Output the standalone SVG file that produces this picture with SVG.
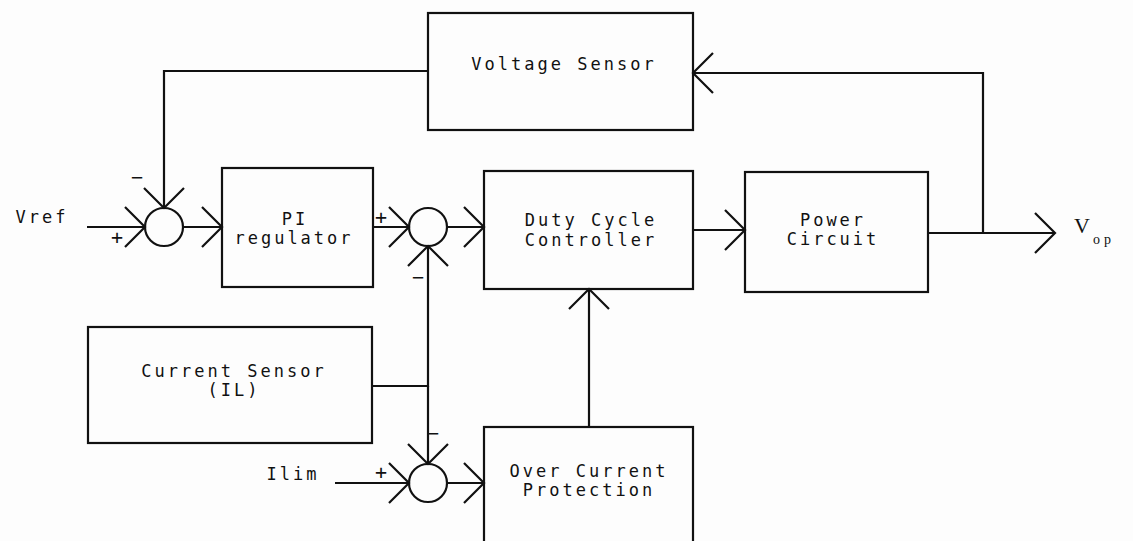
<svg xmlns="http://www.w3.org/2000/svg" width="1133" height="541" viewBox="0 0 1133 541">
<style>
.box{fill:none;stroke:#111;stroke-width:2.2}
.sum{fill:none;stroke:#111;stroke-width:2.2}
.wire{fill:none;stroke:#111;stroke-width:2.2}
.lbl{font-family:"DejaVu Sans Mono","Liberation Mono",monospace;font-size:17px;fill:#111;text-anchor:middle;letter-spacing:3px}
.sign{font-family:"DejaVu Sans Mono","Liberation Mono",monospace;font-size:20px;fill:#111;text-anchor:middle}
.vop{font-family:"Liberation Serif",serif;fill:#111}
</style>
<defs>
<marker id="chev" markerUnits="userSpaceOnUse" markerWidth="44" markerHeight="44" refX="22" refY="22" orient="auto" viewBox="0 0 44 44">
<path d="M2,2 L22,22 L2,42" fill="none" stroke="#111" stroke-width="2.2"/>
</marker>
</defs>
<rect width="1133" height="541" fill="#fdfdfd"/>
<g id="connectors">
<path class="wire" d="M87,227 H145" marker-end="url(#chev)"/>
<path class="wire" d="M428,71 H164 V208" marker-end="url(#chev)"/>
<path class="wire" d="M983,233 V73 H693" marker-end="url(#chev)"/>
<path class="wire" d="M183,227 H222" marker-end="url(#chev)"/>
<path class="wire" d="M373,227 H409" marker-end="url(#chev)"/>
<path class="wire" d="M447,227 H484" marker-end="url(#chev)"/>
<path class="wire" d="M372,386 H428 V246" marker-end="url(#chev)"/>
<path class="wire" d="M428,386 V464" marker-end="url(#chev)"/>
<path class="wire" d="M335,483 H409" marker-end="url(#chev)"/>
<path class="wire" d="M447,483 H484" marker-end="url(#chev)"/>
<path class="wire" d="M589,427 V289" marker-end="url(#chev)"/>
<path class="wire" d="M693,230 H745" marker-end="url(#chev)"/>
<path class="wire" d="M928,233 H1055" marker-end="url(#chev)"/>
</g>
<g id="vref"><text class="lbl" x="42" y="223">Vref</text></g>
<g id="sum1">
<circle class="sum" cx="164" cy="227" r="19"/>
<text class="sign" x="137" y="184">−</text>
<text class="sign" x="117" y="244">+</text>
</g>
<g id="voltage-sensor">
<rect class="box" x="428" y="13" width="265" height="117"/>
<text class="lbl" x="564" y="70">Voltage Sensor</text>
</g>
<g id="pi-regulator">
<rect class="box" x="222" y="168" width="151" height="119"/>
<text class="lbl" x="295" y="225">PI</text>
<text class="lbl" x="294" y="244">regulator</text>
</g>
<g id="sum2">
<circle class="sum" cx="428" cy="227" r="19"/>
<text class="sign" x="381" y="224">+</text>
<text class="sign" x="418" y="284">−</text>
</g>
<g id="duty-cycle-controller">
<rect class="box" x="484" y="171" width="209" height="118"/>
<text class="lbl" x="591" y="226">Duty Cycle</text>
<text class="lbl" x="591" y="246">Controller</text>
</g>
<g id="power-circuit">
<rect class="box" x="745" y="172" width="183" height="120"/>
<text class="lbl" x="833" y="226">Power</text>
<text class="lbl" x="833" y="245">Circuit</text>
</g>
<g id="vop">
<text class="vop" x="1074" y="233" font-size="22">V</text>
<text class="vop" x="1093" y="244" font-size="14" letter-spacing="4">op</text>
</g>
<g id="current-sensor">
<rect class="box" x="88" y="327" width="284" height="116"/>
<text class="lbl" x="234" y="377">Current Sensor</text>
<text class="lbl" x="234" y="396">(IL)</text>
</g>
<g id="ilim"><text class="lbl" x="293" y="480">Ilim</text></g>
<g id="sum3">
<circle class="sum" cx="428" cy="483" r="19"/>
<text class="sign" x="433" y="440">−</text>
<text class="sign" x="381" y="479">+</text>
</g>
<g id="over-current-protection">
<rect class="box" x="484" y="427" width="209" height="120"/>
<text class="lbl" x="589" y="477">Over Current</text>
<text class="lbl" x="589" y="496">Protection</text>
</g>
</svg>
